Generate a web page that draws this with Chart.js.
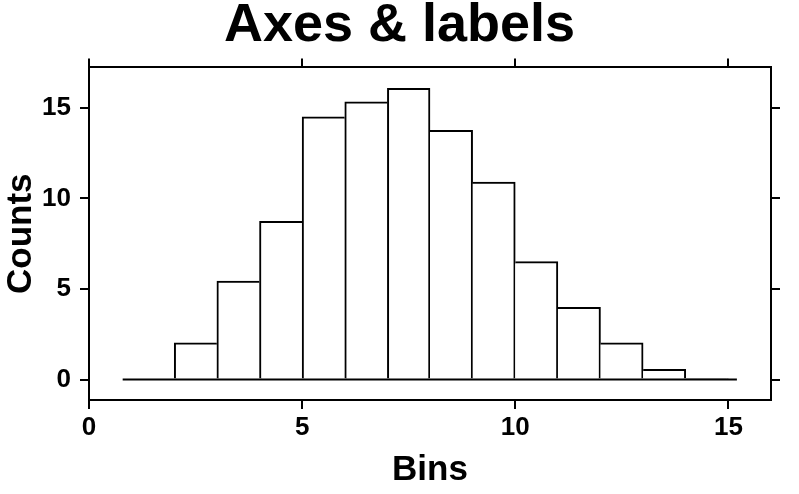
<!DOCTYPE html>
<html>
<head>
<meta charset="utf-8">
<title>Axes &amp; labels</title>
<script src="https://cdn.jsdelivr.net/npm/chart.js@4.4.0/dist/chart.umd.min.js"></script>
<style>
  html, body { margin: 0; padding: 0; background: #fff; }
  #wrap { width: 799px; height: 494px; }
</style>
</head>
<body>
<div id="wrap"><canvas id="chart" width="799" height="494"></canvas></div>
<script>
// histogram: bin centres (width 1) and counts
const binCentres = [2.5, 3.5, 4.5, 5.5, 6.5, 7.5, 8.5, 9.5, 10.5, 11.5, 12.5, 13.5, 14.5];
const counts = [2.03, 5.44, 8.74, 14.5, 15.33, 16.08, 13.76, 10.9, 6.51, 3.98, 2.03, 0.57, 0.05];
const baselineX = [0.79, 15.2]; // zero line under the bars
const xTicks = [0, 5, 10, 15];
const yTicks = [0, 5, 10, 15];
const xRange = [0, 16];
const yRange = [-1.13, 17.23];

const LINE = 2;

Chart.defaults.font.family = "'Liberation Sans', Arial, Helvetica, sans-serif";
Chart.defaults.font.weight = 'bold';
Chart.defaults.color = '#000';

// a shared edge belongs to the taller of the two bars, so it is only drawn once
function edgeWidths(ctx) {
  const i = ctx.dataIndex;
  const v = counts[i];
  const prev = counts[i - 1];
  const next = counts[i + 1];
  return {
    top: LINE,
    bottom: 0,
    left: (prev === undefined || v >= prev) ? LINE : 0,
    right: (next === undefined || v > next) ? LINE : 0
  };
}

const tickMarks = {
  display: true,
  offset: false,
  drawOnChartArea: false,
  drawTicks: true,
  tickLength: 9,
  color: '#000',
  lineWidth: LINE
};
const frame = { display: true, color: '#000', width: LINE };
const useTicks = (values) => (scale) => {
  scale.ticks = values.map(v => ({ value: v }));
};

const chart = new Chart(document.getElementById('chart'), {
  type: 'bar',
  data: {
    datasets: [
      {
        type: 'line',
        data: baselineX.map(x => ({ x: x, y: 0 })),
        borderColor: '#000',
        borderWidth: LINE,
        pointRadius: 0,
        xAxisID: 'x',
        yAxisID: 'y',
        order: 0
      },
      {
        data: binCentres.map((x, i) => ({ x: x, y: counts[i] })),
        backgroundColor: '#fff',
        borderColor: '#000',
        borderWidth: edgeWidths,
        borderSkipped: false,
        barPercentage: 1,
        categoryPercentage: 1,
        xAxisID: 'x',
        yAxisID: 'y',
        order: 1
      }
    ]
  },
  options: {
    responsive: false,
    animation: false,
    events: [],
    layout: { padding: 0 },
    plugins: {
      legend: { display: false },
      tooltip: { enabled: false },
      title: {
        display: true,
        text: 'Axes & labels',
        color: '#000',
        font: { size: 54, weight: 'bold', lineHeight: 0.86 },
        padding: { top: 3, bottom: 9 }
      }
    },
    scales: {
      x: {
        type: 'linear',
        position: 'bottom',
        offset: false,
        min: xRange[0],
        max: xRange[1],
        grid: tickMarks,
        border: frame,
        afterBuildTicks: useTicks(xTicks),
        ticks: { font: { size: 26 }, padding: 3, maxRotation: 0, autoSkip: false },
        title: {
          display: true,
          text: 'Bins',
          font: { size: 35, weight: 'bold' },
          padding: { top: 0, bottom: 3 }
        },
        afterFit: s => { s.height = 94; }
      },
      xTop: {
        type: 'linear',
        position: 'top',
        offset: false,
        min: xRange[0],
        max: xRange[1],
        grid: tickMarks,
        border: frame,
        afterBuildTicks: useTicks(xTicks),
        ticks: { display: false },
        afterFit: s => { s.height = 9; }
      },
      y: {
        type: 'linear',
        position: 'left',
        min: yRange[0],
        max: yRange[1],
        grid: tickMarks,
        border: frame,
        afterBuildTicks: useTicks(yTicks),
        ticks: { font: { size: 26 }, padding: 9, autoSkip: false },
        title: {
          display: true,
          text: 'Counts',
          font: { size: 35, weight: 'bold' },
          padding: { top: 0, bottom: 0 }
        },
        afterFit: s => { s.width = 89; }
      },
      yRight: {
        type: 'linear',
        position: 'right',
        min: yRange[0],
        max: yRange[1],
        grid: tickMarks,
        border: frame,
        afterBuildTicks: useTicks(yTicks),
        ticks: { display: false },
        afterFit: s => { s.width = 28; }
      }
    }
  }
});
</script>
</body>
</html>
